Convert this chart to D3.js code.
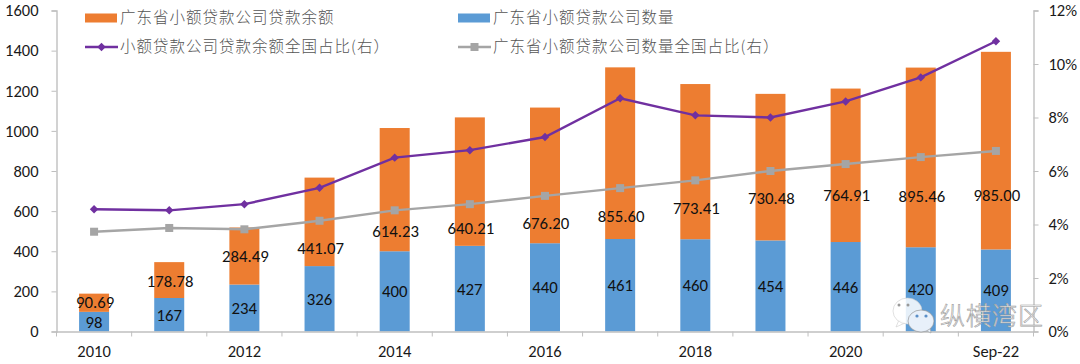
<!DOCTYPE html>
<html><head><meta charset="utf-8">
<script src="https://cdn.jsdelivr.net/npm/d3@7/dist/d3.min.js"></script>
<style>html,body{margin:0;padding:0;background:#fff}svg{display:block}</style>
</head><body><svg id="c" width="1080" height="364"></svg>
<script>
const categories=["2010","2011","2012","2013","2014","2015","2016","2017","2018","2019","2020","2021","Sep-22"];
const tickLabels=["2010","2012","2014","2016","2018","2020","Sep-22"];
const companyCount=[98,167,234,326,400,427,440,461,460,454,446,420,409];
const loanBalance=[90.69,178.78,284.49,441.07,614.23,640.21,676.20,855.60,773.41,730.48,764.91,895.46,985.00];
const balanceShare=[4.57,4.53,4.76,5.37,6.5,6.78,7.27,8.72,8.08,8.0,8.6,9.5,10.85];
const countShare=[3.73,3.87,3.82,4.14,4.53,4.76,5.07,5.36,5.65,6.0,6.26,6.52,6.75];
const seriesNames=["广东省小额贷款公司贷款余额","广东省小额贷款公司数量","小额贷款公司贷款余额全国占比(右）","广东省小额贷款公司数量全国占比(右）"];
const leftTicks=[0,200,400,600,800,1000,1200,1400,1600];
const rightTicks=[0,2,4,6,8,10,12];

// hand-placed label lift above the blue bar top, in px (as in the source chart)
const balanceLabelLift=[10,17,28,18,20,18,20,23,31,42,47,51,54];

const m={l:56.5,r:1033.5,t:10.5,b:331.5};
const svg=d3.select("#c");
const FONT="Carlito, Lato, 'Open Sans', sans-serif";
const xo=d3.scaleBand().domain(categories).range([m.l,m.r]);
const y=d3.scaleLinear().domain([0,1600]).range([m.b,m.t]);
const yr=d3.scaleLinear().domain([0,12]).range([m.b,m.t]);
const cx=c=>xo(c)+xo.bandwidth()/2;
const barW=30;

// bars
const g=svg.append("g");
g.selectAll(".b").data(categories).join("rect")
 .attr("x",c=>cx(c)-barW/2).attr("width",barW)
 .attr("y",(c,i)=>y(companyCount[i])).attr("height",(c,i)=>y(0)-y(companyCount[i]))
 .attr("fill","#5b9bd5");
g.selectAll(".o").data(categories).join("rect")
 .attr("x",c=>cx(c)-barW/2).attr("width",barW)
 .attr("y",(c,i)=>y(companyCount[i]+loanBalance[i])).attr("height",(c,i)=>y(companyCount[i])-y(companyCount[i]+loanBalance[i]))
 .attr("fill","#ed7d31");

// axes
function styleAxis(a){
  a.selectAll(".domain").attr("stroke","#bfbfbf").attr("stroke-width",1.4);
  a.selectAll(".tick line").attr("stroke","#bfbfbf").attr("stroke-width",1);
  a.selectAll("text").attr("fill","#1a1a1a").attr("font-family",FONT).style("font-size","16.5px");
}
const ax=svg.append("g").attr("transform",`translate(0,${m.b})`)
 .call(d3.axisBottom(xo).tickSize(0).tickPadding(14).tickFormat(d=>tickLabels.includes(d)?d:""));
ax.selectAll(".tick line").remove();
styleAxis(ax);
ax.selectAll(".bt").data(d3.range(categories.length+1)).join("line")
 .attr("x1",i=>m.l+i*xo.step()).attr("x2",i=>m.l+i*xo.step()).attr("y1",0).attr("y2",5)
 .attr("stroke","#bfbfbf");
const al=svg.append("g").attr("transform",`translate(${m.l},0)`)
 .call(d3.axisLeft(y).tickValues(leftTicks).tickSize(5).tickPadding(13).tickFormat(d3.format("d")));
styleAxis(al);
const ar=svg.append("g").attr("transform",`translate(${m.r},0)`)
 .call(d3.axisRight(yr).tickValues(rightTicks).tickSize(5).tickPadding(10).tickFormat(d=>d+"%"));
styleAxis(ar);

// lines
const lineGen=d3.line().x((d,i)=>cx(categories[i])).y(d=>yr(d));
svg.append("path").datum(countShare).attr("d",lineGen).attr("fill","none").attr("stroke","#a5a5a5").attr("stroke-width",2.4);
svg.selectAll(".sq").data(countShare).join("rect")
 .attr("x",(d,i)=>cx(categories[i])-4).attr("y",d=>yr(d)-4).attr("width",8).attr("height",8).attr("fill","#a5a5a5");
svg.append("path").datum(balanceShare).attr("d",lineGen).attr("fill","none").attr("stroke","#7030a0").attr("stroke-width",2.4);
svg.selectAll(".di").data(balanceShare).join("path")
 .attr("d",d3.symbol().type(d3.symbolSquare).size(36))
 .attr("transform",(d,i)=>`translate(${cx(categories[i])},${yr(d)}) rotate(45)`).attr("fill","#7030a0");

// data labels
const lab=svg.append("g").attr("font-family",FONT).attr("fill","#111").attr("text-anchor","middle").style("font-size","16.8px");
lab.selectAll(".l1").data(loanBalance).join("text")
 .attr("x",(d,i)=>cx(categories[i])+1).attr("y",(d,i)=>y(companyCount[i])-balanceLabelLift[i]).attr("dy","0.35em")
 .text(d=>d.toFixed(2));
lab.selectAll(".l2").data(companyCount).join("text")
 .attr("x",(d,i)=>cx(categories[i])).attr("y",d=>y(d/2)).attr("dy","0.35em")
 .text(d=>d);

// legend
const lg=svg.append("g").attr("font-family","'Noto Sans CJK SC',sans-serif").attr("font-weight",300).attr("fill","#555").style("font-size","15.5px").attr("letter-spacing","1px");
const lx=[85,458], ly=[18,47];
[[0,"#ed7d31"],[1,"#5b9bd5"]].forEach(([c,col],k)=>{
  lg.append("rect").attr("x",lx[c]).attr("y",ly[0]-4.5).attr("width",32).attr("height",9).attr("fill",col);
  lg.append("text").attr("x",lx[c]+35).attr("y",ly[0]).attr("dy","0.35em").text(seriesNames[k]);
});
[[0,"#7030a0",true],[1,"#a5a5a5",false]].forEach(([c,col,dia],k)=>{
  lg.append("line").attr("x1",lx[c]).attr("x2",lx[c]+33).attr("y1",ly[1]).attr("y2",ly[1]).attr("stroke",col).attr("stroke-width",2.4);
  const mk=d3.symbol().type(d3.symbolSquare).size(dia?36:64);
  lg.append("path").attr("d",mk).attr("fill",col).attr("transform",`translate(${lx[c]+16.5},${ly[1]}) rotate(${dia?45:0})`);
  lg.append("text").attr("x",lx[c]+35).attr("y",ly[1]).attr("dy","0.35em").text(seriesNames[k+2]);
});

// watermark
const wm=svg.append("g");
wm.append("path").attr("d","M899 320l-3 7 9-4z").attr("fill","#fff").attr("stroke","#ccc").attr("stroke-width",.6);
wm.append("ellipse").attr("cx",907.5).attr("cy",311).attr("rx",14.5).attr("ry",13).attr("fill","#fff").attr("fill-opacity",.85).attr("stroke","#ccc").attr("stroke-width",.6);
wm.selectAll(".d1").data([-5,4]).join("circle").attr("cx",d=>904+d).attr("cy",305).attr("r",1.5).attr("fill","#999");
wm.append("path").attr("d","M925 330l6 3-1-6z").attr("fill","#e8f0fa").attr("stroke","#999").attr("stroke-width",.6);
wm.append("ellipse").attr("cx",921).attr("cy",321).attr("rx",13).attr("ry",11).attr("fill","#e8f0fa").attr("stroke","#888").attr("stroke-width",.6);
wm.selectAll(".d2").data([-4,5]).join("circle").attr("cx",d=>921+d).attr("cy",316).attr("r",1.6).attr("fill","#5b8fc8");
wm.append("text").attr("x",940).attr("y",325).attr("font-family","'Noto Sans CJK SC',sans-serif").attr("font-weight",300).style("font-size","25px")
 .attr("fill","#fff").attr("stroke","#9a9a9a").attr("stroke-width",.6).attr("letter-spacing","1px").text("纵横湾区");
</script></body></html>
